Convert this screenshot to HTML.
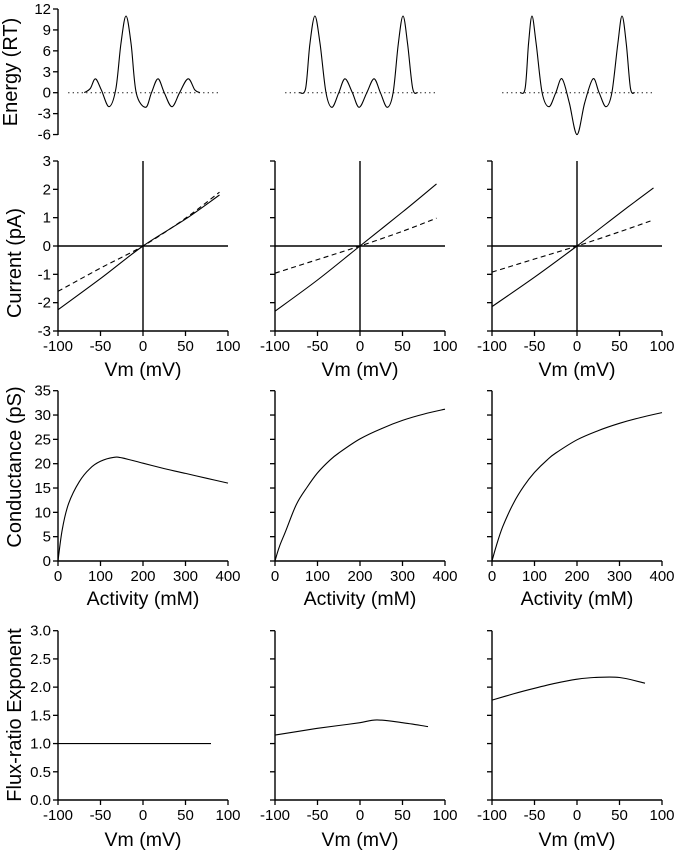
<!DOCTYPE html>
<html><head><meta charset="utf-8">
<style>
html,body{margin:0;padding:0;background:#fff;}
svg{display:block;font-family:"Liberation Sans",Arial,sans-serif;}
</style></head>
<body>
<svg id="fig" width="676" height="853" viewBox="0 0 676 853" xmlns="http://www.w3.org/2000/svg"></svg>
<script>
// ---- data ----
const energyCol1X = [-69,-62,-56,-49,-40,-32,-26,-20,-14,-8,3,10,17.6,25,34,43,53,61,67];
const energyCol1Y = [0,0.6,2,0.4,-2,0.5,7,11,7,0,-2.1,0,2,0,-2,0,2,0.4,0];
const energyCol2X = [-71,-64,-59,-53,-47,-40,-33,-25,-17.6,-9,-1,8,16.5,24,32,39,45,50.6,56,62,68];
const energyCol2Y = [0,0.6,7,11,7,0,-2.1,0,2,0,-2.1,0,2,0,-2.1,0,7,11,7,0.6,0];
const energyCol3X = [-67,-61,-57,-53,-48,-41,-33,-25,-17.6,-9,0,9,18.8,26,34,41,48,53,58,63,68];
const energyCol3Y = [0,0.6,7,11,7,0,-2,0,2,-1.5,-6,-1.5,2,0,-2,0,7,11,7,0.6,0];

const ivVm = [-100,-50,0,50,90];
const ivSolid1 = [-2.25,-1.15,0,0.95,1.8];
const ivDash1 = [-1.6,-0.78,0,0.98,1.9];
const ivSolid2 = [-2.3,-1.2,0,1.2,2.19];
const ivDash2 = [-0.96,-0.48,0,0.52,0.98];
const ivSolid3 = [-2.14,-1.1,0,1.15,2.05];
const ivDash3 = [-0.92,-0.46,0,0.5,0.92];

const actX = [0,10,25,50,75,100,130,150,200,250,300,350,400];
const cond1 = [0,6.5,11.8,16.3,19,20.5,21.3,21.2,20.1,19,18,17,16];
const cond2 = [0,2.9,6.1,11.6,15.1,18.1,20.8,22.2,25.1,27.2,28.9,30.2,31.2];
const cond3 = [0,3.1,7.0,11.8,15.4,18.2,20.8,22.2,24.9,26.8,28.3,29.5,30.5];

const fluxVm = [-100,-75,-50,-25,0,20,50,80];
const flux1 = [1,1,1,1,1,1,1,1];
const flux2 = [1.15,1.21,1.27,1.32,1.37,1.42,1.37,1.3];
const flux3 = [1.77,1.88,1.98,2.07,2.14,2.17,2.17,2.07];

const colX0 = [58,275,492];
const W = 170;
const svg = document.getElementById('fig');
const NS = 'http://www.w3.org/2000/svg';
function mk(tag, attrs, parent){const e=document.createElementNS(NS,tag);for(const k in attrs)e.setAttribute(k,attrs[k]);(parent||svg).appendChild(e);return e;}
function lin(d0,d1,r0,r1){return v=>r0+(v-d0)*(r1-r0)/(d1-d0);}
function smoothPath(pts){
  let d='M'+pts[0][0].toFixed(1)+','+pts[0][1].toFixed(1);
  for(let i=0;i<pts.length-1;i++){
    const p0=pts[Math.max(i-1,0)],p1=pts[i],p2=pts[i+1],p3=pts[Math.min(i+2,pts.length-1)];
    const c1=[p1[0]+(p2[0]-p0[0])/6,p1[1]+(p2[1]-p0[1])/6];
    const c2=[p2[0]-(p3[0]-p1[0])/6,p2[1]-(p3[1]-p1[1])/6];
    d+=' C'+c1[0].toFixed(1)+','+c1[1].toFixed(1)+' '+c2[0].toFixed(1)+','+c2[1].toFixed(1)+' '+p2[0].toFixed(1)+','+p2[1].toFixed(1);
  }
  return d;
}
function text(x,y,s,size,anchor,name,rot){
  const t=mk('text',{x:x,y:y,'font-size':size,'text-anchor':anchor||'middle',fill:'#000'});
  if(rot)t.setAttribute('transform','rotate(-90 '+x+' '+y+')');
  
  
  t.textContent=s;return t;
}
function yAxis(x,yTop,yBot,vals,fy,labels,name){
  const l=mk('line',{x1:x,y1:yTop,x2:x,y2:yBot,stroke:'#000','stroke-width':1.4});
  
  
  vals.forEach((v,i)=>{
    mk('line',{x1:x-5,y1:fy(v),x2:x,y2:fy(v),stroke:'#000','stroke-width':1.3});
    if(labels) text(x-7,fy(v)+5,labels[i],15,'end','y-tick-label');
  });
}
function xAxis(y,x0,x1,vals,fx,labels,name){
  const l=mk('line',{x1:x0,y1:y,x2:x1,y2:y,stroke:'#000','stroke-width':1.4});
  
  
  vals.forEach((v,i)=>{
    mk('line',{x1:fx(v),y1:y,x2:fx(v),y2:y+5,stroke:'#000','stroke-width':1.3});
    text(fx(v),y+20,labels[i],15,'middle','x-tick-label');
  });
}
function curve(xs,ys,fx,fy,name,dash,smooth){
  const pts=xs.map((x,i)=>[fx(x),fy(ys[i])]);
  const d=smooth?smoothPath(pts):'M'+pts.map(p=>p[0].toFixed(1)+','+p[1].toFixed(1)).join(' L');
  const p=mk('path',{d:d,fill:'none',stroke:'#000','stroke-width':1.1});
  if(dash)p.setAttribute('stroke-dasharray',dash);
  
  
  return p;
}
const vmTicks=[-100,-50,0,50,100], vmLabels=['-100','-50','0','50','100'];

// ---- Energy row ----
const eTicks=[12,9,6,3,0,-3,-6], eLabels=['12','9','6','3','0','-3','-6'];
const fyE=lin(0,12,92.7,9);
const energyX=[energyCol1X,energyCol2X,energyCol3X], energyY=[energyCol1Y,energyCol2Y,energyCol3Y];
for(let c=0;c<3;c++){
  const fx=lin(-100,100,colX0[c],colX0[c]+W);
  if(c===0) yAxis(58,9,135,eTicks,fyE,eLabels,'energy-y-axis');
  const dl=mk('line',{x1:fx(-88),y1:fyE(0),x2:fx(91),y2:fyE(0),stroke:'#000','stroke-width':1,'stroke-dasharray':'1.2,3.3'});
  
  
  curve(energyX[c],energyY[c],fx,fyE,'energy-profile-'+(c+1),null,true);
}
text(17,72,'Energy (RT)',20,'middle','energy-y-axis-title',true);

// ---- Current row ----
const fyI=lin(0,3,246,161);
const iTicks=[3,2,1,0,-1,-2,-3], iLabels=['3','2','1','0','-1','-2','-3'];
const solids=[ivSolid1,ivSolid2,ivSolid3], dashes=[ivDash1,ivDash2,ivDash3];
for(let c=0;c<3;c++){
  const x0=colX0[c], fx=lin(-100,100,x0,x0+W);
  yAxis(x0,161,331,iTicks,fyI,c===0?iLabels:null,'current-y-axis');
  xAxis(331,x0,x0+W,vmTicks,fx,vmLabels,'current-x-axis');
  const h=mk('line',{x1:x0,y1:fyI(0),x2:x0+W,y2:fyI(0),stroke:'#000','stroke-width':1.4});
  
  
  const v=mk('line',{x1:fx(0),y1:161,x2:fx(0),y2:331,stroke:'#000','stroke-width':1.4});
  
  
  curve(ivVm,solids[c],fx,fyI,'iv-solid-'+(c+1),null,true);
  curve(ivVm,dashes[c],fx,fyI,'iv-dashed-'+(c+1),'5,3.5',true);
  text(x0+W/2,376,'Vm (mV)',19.5,'middle','current-x-axis-title');
}
text(21,263,'Current (pA)',20,'middle','current-y-axis-title',true);

// ---- Conductance row ----
const fyG=lin(0,35,561,390.7);
const gTicks=[35,30,25,20,15,10,5,0], gLabels=['35','30','25','20','15','10','5','0'];
const conds=[cond1,cond2,cond3];
for(let c=0;c<3;c++){
  const x0=colX0[c], fx=lin(0,400,x0,x0+W);
  yAxis(x0,390.7,561,gTicks,fyG,c===0?gLabels:null,'conductance-y-axis');
  xAxis(561,x0,x0+W,[0,100,200,300,400],fx,['0','100','200','300','400'],'activity-x-axis');
  curve(actX,conds[c],fx,fyG,'conductance-curve-'+(c+1),null,true);
  text(x0+W/2,605,'Activity (mM)',19.5,'middle','activity-x-axis-title');
}
text(21,467,'Conductance (pS)',20,'middle','conductance-y-axis-title',true);

// ---- Flux-ratio row ----
const fyF=lin(0,3,800,630.7);
const fTicks=[3,2.5,2,1.5,1,0.5,0], fLabels=['3.0','2.5','2.0','1.5','1.0','0.5','0.0'];
const fluxes=[flux1,flux2,flux3];
for(let c=0;c<3;c++){
  const x0=colX0[c], fx=lin(-100,100,x0,x0+W);
  yAxis(x0,630.7,800,fTicks,fyF,c===0?fLabels:null,'flux-y-axis');
  xAxis(800,x0,x0+W,vmTicks,fx,vmLabels,'flux-x-axis');
  curve(fluxVm,fluxes[c],fx,fyF,'flux-ratio-curve-'+(c+1),null,true);
  text(x0+W/2,846,'Vm (mV)',19.5,'middle','flux-x-axis-title');
}
text(21,715,'Flux-ratio Exponent',20,'middle','flux-y-axis-title',true);
</script>
</body></html>
